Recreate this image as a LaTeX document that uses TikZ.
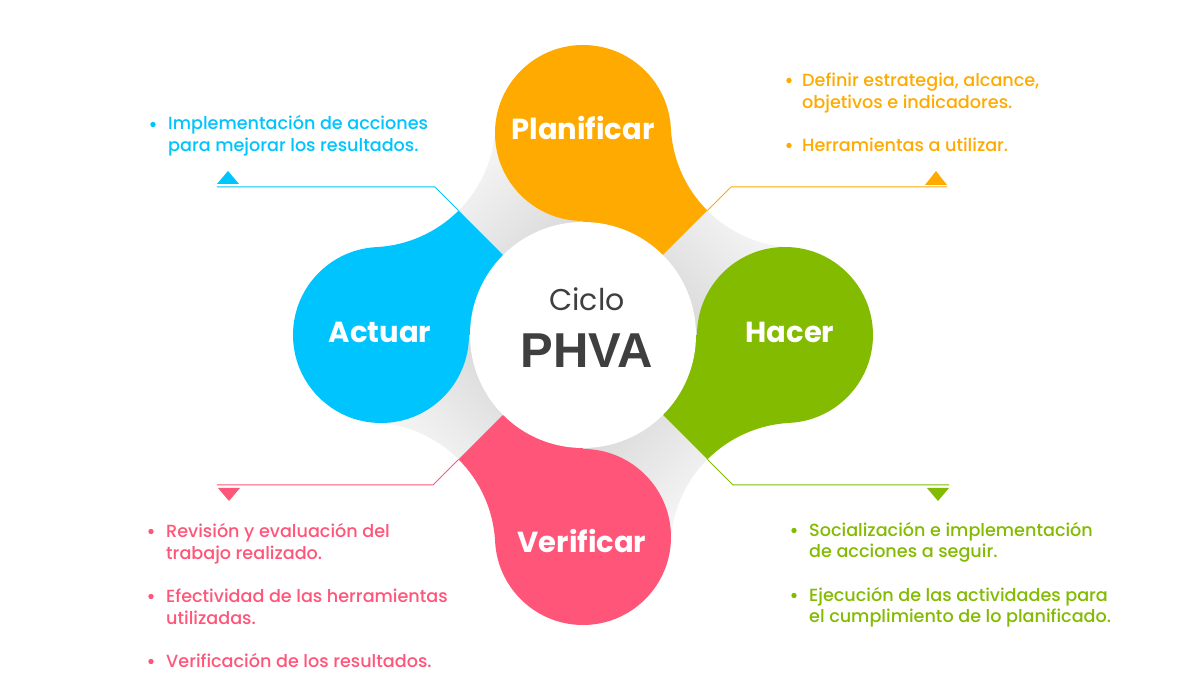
\documentclass[tikz,border=0pt]{standalone}
\usepackage{fontspec}
\setmainfont{Poppins}
\newfontfamily\phvafont{Liberation Sans}
\IfFontExistsTF{Poppins Medium}{\newfontfamily\itemfont{Poppins Medium}\def\itemsize{17.6}}{\newfontfamily\itemfont{Poppins}\def\itemsize{18.1}}
\usetikzlibrary{calc}
\definecolor{cO}{HTML}{FEAA00}
\definecolor{cH}{HTML}{82BB00}
\definecolor{cV}{HTML}{FF5579}
\definecolor{cA}{HTML}{00C4FE}
\definecolor{gL}{HTML}{F5F5F5}
\definecolor{gD}{HTML}{CFCFCF}
\definecolor{txt}{HTML}{3F3F3F}
\begin{document}
\begin{tikzpicture}[x=1pt,y=1pt,
  petal/.style={circle, inner sep=0pt, minimum size=176pt},
  lab/.style={anchor=base, inner sep=0pt, text=white, font=\fontsize{29}{29}\selectfont\bfseries},
  item/.style={anchor=base west, inner sep=0pt, font=\itemfont\fontsize{\itemsize}{22}\selectfont},
  dot/.style={circle, inner sep=0pt, minimum size=5.4pt},
  conn/.style={line width=1pt},
  ]
\useasboundingbox (-583,-365) rectangle (617,335);
% fillets: grey half and coloured half
\foreach \ang/\col in {45/cO, -45/cH, -135/cV, 135/cA} {
  \pgfmathsetmacro\sa{\ang-90}
  \shade[left color=gL, right color=gD, shading angle=\sa]
    (0,0) -- (\ang:175.9) arc[start angle=\ang+180, end angle=\ang+222.04, radius=125.3]
    -- (\ang-45:202) -- cycle;
  \fill[\col] (0,0) -- (\ang+45:202) -- ($(\ang+45:202)+(\ang-42.04:88)$)
    arc[start angle=\ang+137.96, end angle=\ang+180, radius=125.3] -- cycle;
}
% petals
\node[petal, fill=cO] (plan) at (0,202) {};
\node[petal, fill=cH] (hacer) at (202,0) {};
\node[petal, fill=cV] (verif) at (0,-202) {};
\node[petal, fill=cA] (actuar) at (-202,0) {};
\node[circle, fill=white, inner sep=0pt, minimum size=226pt] (centre) at (0,0) {};
% labels
\node[lab] (lplan) at (0,195) {Planificar};
\node[lab] (lhacer) at (207,-8) {Hacer};
\node[lab] (lactuar) at (-203,-8) {Actuar};
\node[lab] (lverif) at (-1,-218) {Verificar};
\node[anchor=base, inner sep=0pt, text=txt, font=\fontsize{30}{30}\selectfont] (ciclo) at (4,24) {Ciclo};
\node[anchor=base, inner sep=0pt, text=txt, font=\phvafont\fontsize{49}{49}\selectfont\bfseries] (phva) at (4,-33) {PHVA};
% connector corners
\coordinate (mNE) at (45:175.9);
\coordinate (mSE) at (-45:175.9);
\coordinate (mSW) at (-135:175.9);
\coordinate (mNW) at (135:175.9);
\coordinate (kNE) at (148,148);
\coordinate (eNE) at (364,148);
\coordinate (kNW) at (-148,148);
\coordinate (eNW) at (-366,148);
\coordinate (kSE) at (150,-150);
\coordinate (eSE) at (366,-150);
\coordinate (kSW) at (-150,-150);
\coordinate (eSW) at (-366,-150);
\draw[conn, cO] (mNE) -- (kNE) -- (eNE);
\draw[conn, cA] (mNW) -- (kNW) -- (eNW);
\draw[conn, cH] (mSE) -- (kSE) -- (eSE);
\draw[conn, cV] (mSW) -- (kSW) -- (eSW);
% triangles
\fill[cA] (-366,151) -- (-344,151) -- (-355,164) -- cycle;
\fill[cO] (342,150) -- (364,150) -- (353,164) -- cycle;
\fill[cV] (-365,-153) -- (-343,-153) -- (-354,-166) -- cycle;
\fill[cH] (344,-153) -- (366,-153) -- (355,-166) -- cycle;
% Actuar text
\node[dot, fill=cA] (a1) at (-430,210.5) {};
\node[item, text=cA] (ta1) at (-415,205) {Implementación de acciones};
\node[item, text=cA] (ta2) at (-415,183) {para mejorar los resultados.};
% Planificar text
\node[dot, fill=cO] (p1) at (206,254.5) {};
\node[item, text=cO] (tp1) at (219,248) {Definir estrategia, alcance,};
\node[item, text=cO] (tp2) at (219,226) {objetivos e indicadores.};
\node[dot, fill=cO] (p2) at (206,189.5) {};
\node[item, text=cO] (tp3) at (219,183) {Herramientas a utilizar.};
% Verificar text
\node[dot, fill=cV] (v1) at (-432,-196.5) {};
\node[item, text=cV] (tv1) at (-417,-203) {Revisión y evaluación del};
\node[item, text=cV] (tv2) at (-417,-225) {trabajo realizado.};
\node[dot, fill=cV] (v2) at (-432,-261.5) {};
\node[item, text=cV] (tv3) at (-417,-268) {Efectividad de las herramientas};
\node[item, text=cV] (tv4) at (-417,-290) {utilizadas.};
\node[dot, fill=cV] (v3) at (-432,-326.5) {};
\node[item, text=cV] (tv5) at (-417,-333) {Verificación de los resultados.};
% Hacer text
\node[dot, fill=cH] (h1) at (211,-195.5) {};
\node[item, text=cH] (th1) at (226,-202) {Socialización e implementación};
\node[item, text=cH] (th2) at (226,-223) {de acciones a seguir.};
\node[dot, fill=cH] (h2) at (211,-260.5) {};
\node[item, text=cH] (th3) at (226,-267) {Ejecución de las actividades para};
\node[item, text=cH] (th4) at (226,-288) {el cumplimiento de lo planificado.};
\end{tikzpicture}
\end{document}
